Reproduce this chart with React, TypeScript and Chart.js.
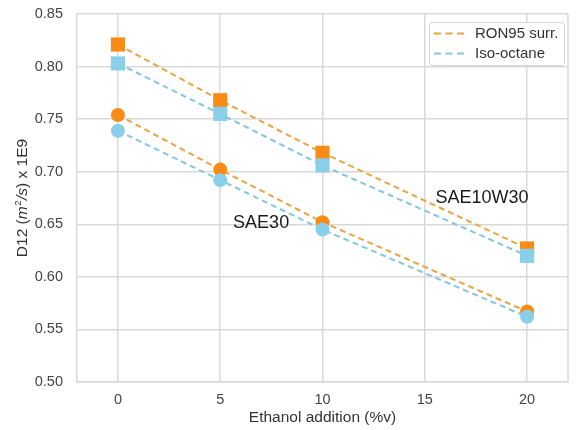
import React, { useEffect, useRef } from "react";
import { Chart, registerables } from "chart.js";

Chart.register(...registerables);

// ---- data ----
const xValues = [0, 5, 10, 20];
const ron95Sae10w30 = [0.821, 0.768, 0.718, 0.627];
const isoSae10w30 = [0.803, 0.755, 0.706, 0.62];
const ron95Sae30 = [0.754, 0.702, 0.652, 0.567];
const isoSae30 = [0.739, 0.692, 0.645, 0.562];

const xTicks = [0, 5, 10, 15, 20];
const yTicks = [0.5, 0.55, 0.6, 0.65, 0.7, 0.75, 0.8, 0.85];

const legendLabels = ["RON95 surr.", "Iso-octane"];
const xTitle = "Ethanol addition (%v)";
// y title pieces: [text, style]
const yTitleParts: [string, string][] = [
  ["D12 (", ""],
  ["m", "italic"],
  ["2", "sup"],
  ["/", "italic"],
  ["s", "italic"],
  [") x 1E9", ""],
];
const annotationText = ["SAE10W30", "SAE30"];
const annotationX = [17.8, 7.0];
const annotationY = [0.675, 0.651];

// ---- styles ----
const FONT = "'Liberation Sans', Arial, sans-serif";
const ORANGE = "#f98b16";
const ORANGE_LINE = "#e9a244";
const BLUE = "#8acfe9";
const BLUE_LINE = "#84c6df";
const GRID = "#d9d9d9";

const pts = (ys: number[]) => xValues.map((x, i) => ({ x, y: ys[i] }));

const boxPlugin = {
  id: "boxAndText",
  afterDatasetsDraw(chart: any) {
    const { ctx, chartArea } = chart;
    const xs = chart.scales.x;
    const ys = chart.scales.y;
    ctx.save();
    // right border
    ctx.strokeStyle = GRID;
    ctx.lineWidth = 1.5;
    ctx.beginPath();
    ctx.moveTo(chartArea.right, chartArea.top);
    ctx.lineTo(chartArea.right, chartArea.bottom);
    ctx.stroke();

    // annotations
    ctx.fillStyle = "#1a1a1a";
    ctx.font = `18px ${FONT}`;
    ctx.textAlign = "center";
    ctx.textBaseline = "middle";
    annotationText.forEach((t, i) => {
      ctx.fillText(t, xs.getPixelForValue(annotationX[i]), ys.getPixelForValue(annotationY[i]));
    });

    // legend
    const bx = chartArea.right - 139;
    const by = chartArea.top + 8;
    const bw = 135;
    const bh = 43;
    ctx.fillStyle = "#ffffff";
    ctx.strokeStyle = "#d4d4d4";
    ctx.lineWidth = 1;
    ctx.beginPath();
    (ctx as any).roundRect ? ctx.roundRect(bx + 0.5, by + 0.5, bw, bh, 3) : ctx.rect(bx + 0.5, by + 0.5, bw, bh);
    ctx.fill();
    ctx.stroke();
    const colors = [ORANGE_LINE, BLUE_LINE];
    legendLabels.forEach((lab, i) => {
      const ry = by + 11.5 + i * 20;
      ctx.strokeStyle = colors[i];
      ctx.lineWidth = 2;
      ctx.setLineDash([7, 4.5]);
      ctx.beginPath();
      ctx.moveTo(bx + 5, ry);
      ctx.lineTo(bx + 35, ry);
      ctx.stroke();
      ctx.setLineDash([]);
      ctx.fillStyle = "#333333";
      ctx.font = `15px ${FONT}`;
      ctx.textAlign = "left";
      ctx.textBaseline = "middle";
      ctx.fillText(lab, bx + 46, ry + 0.5);
    });

    // y title
    const cy = (chartArea.top + chartArea.bottom) / 2;
    ctx.translate(23, cy);
    ctx.rotate(-Math.PI / 2);
    const base = 15.5;
    const fontFor = (s: string) =>
      s === "italic" ? `italic ${base}px ${FONT}` : s === "sup" ? `${base * 0.62}px ${FONT}` : `${base}px ${FONT}`;
    let total = 0;
    yTitleParts.forEach(([t, s]) => {
      ctx.font = fontFor(s);
      total += ctx.measureText(t).width + (s === "sup" ? 1 : 0);
    });
    let cx = -total / 2;
    ctx.fillStyle = "#333333";
    ctx.textAlign = "left";
    ctx.textBaseline = "middle";
    yTitleParts.forEach(([t, s]) => {
      ctx.font = fontFor(s);
      ctx.fillText(t, cx + (s === "sup" ? 0.5 : 0), s === "sup" ? -5 : 0);
      cx += ctx.measureText(t).width + (s === "sup" ? 1 : 0);
    });
    ctx.restore();
  },
};

export default function App() {
  const ref = useRef<HTMLCanvasElement>(null);
  useEffect(() => {
    if (!ref.current) return;
    const lineDs = (label: string, ys: number[], line: string, fill: string, style: string, radius: number, order: number) => ({
      label,
      data: pts(ys),
      borderColor: line,
      borderWidth: 2,
      borderDash: [6, 4],
      pointStyle: style,
      pointRadius: radius,
      pointBackgroundColor: fill,
      pointBorderColor: fill,
      pointBorderWidth: 0,
      fill: false,
      tension: 0,
      order,
    });
    const chart = new Chart(ref.current, {
      type: "line",
      data: {
        datasets: [
          lineDs(legendLabels[0] + " SAE10W30", ron95Sae10w30, ORANGE_LINE, ORANGE, "rect", 10, 1),
          lineDs(legendLabels[1] + " SAE10W30", isoSae10w30, BLUE_LINE, BLUE, "rect", 10, 0),
          lineDs(legendLabels[0] + " SAE30", ron95Sae30, ORANGE_LINE, ORANGE, "circle", 7, 1),
          lineDs(legendLabels[1] + " SAE30", isoSae30, BLUE_LINE, BLUE, "circle", 7, 0),
        ],
      },
      options: {
        responsive: false,
        animation: false,
        layout: { padding: { top: 14, right: 1, left: 0, bottom: 0 } },
        plugins: { legend: { display: false }, tooltip: { enabled: false } },
        scales: {
          x: {
            type: "linear",
            min: -2,
            max: 22,
            afterBuildTicks: (s: any) => {
              s.ticks = xTicks.map((v) => ({ value: v }));
            },
            afterFit: (s: any) => {
              s.height = 48;
              s.paddingLeft = 0;
              s.paddingRight = 0;
            },
            grid: { color: GRID, lineWidth: 1.5, drawTicks: false },
            border: { color: GRID, width: 1.5 },
            ticks: { padding: 9, color: "#444444", font: { family: FONT, size: 14.5 } },
            title: {
              display: true,
              text: xTitle,
              color: "#333333",
              font: { family: FONT, size: 15.5 },
              padding: { top: 0, bottom: 2.5 },
            },
          },
          y: {
            type: "linear",
            min: 0.5,
            max: 0.85,
            afterBuildTicks: (s: any) => {
              s.ticks = yTicks.map((v) => ({ value: v }));
            },
            afterFit: (s: any) => {
              s.width = 77;
              s.paddingTop = 0;
              s.paddingBottom = 0;
            },
            grid: { color: GRID, lineWidth: 1.5, drawTicks: false },
            border: { color: GRID, width: 1.5 },
            ticks: {
              padding: 14,
              color: "#444444",
              font: { family: FONT, size: 14.5 },
              callback: (v: any) => Number(v).toFixed(2),
            },
          },
        },
      },
      plugins: [boxPlugin],
    });
    return () => chart.destroy();
  }, []);
  return (
    <div style={{ position: "absolute", left: 0, top: 0, width: 578, height: 430, background: "#fff" }}>
      <canvas ref={ref} width={578} height={430} />
    </div>
  );
}
